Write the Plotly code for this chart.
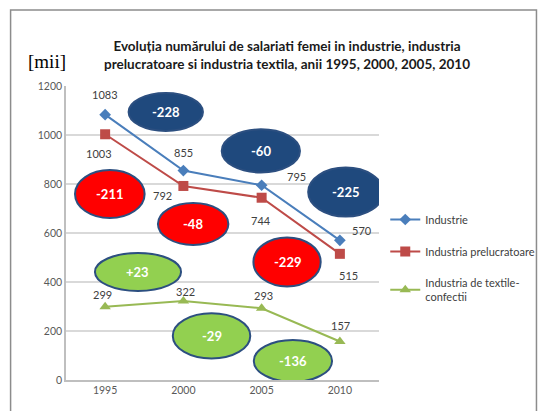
import plotly.graph_objects as go

ani = ["1995", "2000", "2005", "2010"]
industrie = [1083, 855, 795, 570]
prelucratoare = [1003, 792, 744, 515]
textile = [299, 322, 293, 157]

# diferente intre ani (valori scrise in ovale)
dif_industrie = ["-228", "-60", "-225"]
dif_prelucratoare = ["-211", "-48", "-229"]
dif_textile = ["+23", "-29", "-136"]

x = list(range(len(ani)))

# pagina are margine de 8px, deci figura e mai mica cu 8px
fig = go.Figure()

serii = [
    ("Industrie", industrie, "#4A7EBB", "diamond", 9),
    ("Industria prelucratoare", prelucratoare, "#BE4B48", "square", 10),
    ("Industria de textile-<br>confectii", textile, "#98B954", "triangle-up", 10),
]
for i, (nume, val, cul, simbol, sz) in enumerate(serii):
    fig.add_trace(go.Scatter(
        x=x, y=val, name=nume, mode="lines+markers",
        line=dict(color=cul, width=2),
        marker=dict(symbol=simbol, size=sz, color=cul),
        legendgroup=str(i),
    ))

# etichete de date (deplasari in pixeli)
deplasari = [
    [(0, 20), (0, 18), (35, 9), (22, 10)],
    [(-6, -19), (-21, -10), (-1, -23), (9, -22)],
    [(-3, 12), (2, 10), (2, 13), (1, 16)],
]
for (nume, val, cul, simbol, sz), dep in zip(serii, deplasari):
    for xi, v, (dx, dy) in zip(x, val, dep):
        fig.add_annotation(x=xi, y=v, text=str(v), showarrow=False,
                           xshift=dx, yshift=dy,
                           font=dict(family="Lato", size=11, color="#404040"))

# ovale: (x centru, y centru, latime, inaltime)
ovale = [
    (dif_industrie, "#1F497D", [(0.775, 1094, 0.95, 155), (1.99, 935, 1.0, 176), (3.075, 767, 0.96, 200)]),
    (dif_prelucratoare, "#FF0000", [(0.06, 759, 0.89, 196), (1.125, 637, 0.9, 171), (2.325, 482, 0.86, 200)]),
    (dif_textile, "#92D050", [(0.42, 441, 1.1, 155), (1.36, 180, 0.99, 184), (2.4, 78, 1.0, 171)]),
]
for texte, fill, poz in ovale:
    for t, (cx, cy, w, h) in zip(texte, poz):
        fig.add_shape(type="circle", xref="x", yref="y",
                      x0=cx - w / 2, x1=cx + w / 2, y0=cy - h / 2, y1=cy + h / 2,
                      fillcolor=fill, line=dict(color="#2C4F80", width=2))
        fig.add_annotation(x=cx, y=cy, text="<b>" + t + "</b>", showarrow=False,
                           font=dict(family="Lato", size=13, color="white"))


def px_x(p):
    return (p - 66) / 322


def px_y(p):
    return (380 - p) / 294


# chenar exterior
fig.add_shape(type="rect", xref="paper", yref="paper",
              x0=px_x(9), x1=px_x(550), y0=px_y(420), y1=px_y(10),
              line=dict(color="#8C8C8C", width=1.5), fillcolor="rgba(0,0,0,0)")

fig.add_annotation(xref="paper", yref="paper", x=px_x(293), y=px_y(55),
                   xanchor="center", yanchor="middle",
                   text="<b>Evoluția numărului de salariati femei in industrie, industria<br>"
                        "prelucratoare si industria textila, anii 1995, 2000, 2005, 2010</b>",
                   showarrow=False, align="center",
                   font=dict(family="Lato", size=13.5, color="#1A1A1A"))
fig.add_annotation(xref="paper", yref="paper", x=px_x(46), y=px_y(61),
                   xanchor="center", yanchor="middle",
                   text="[mii]", showarrow=False,
                   font=dict(family="Liberation Serif", size=19, color="black"))

fig.update_layout(
    width=544, height=403,
    margin=dict(l=58, r=164, t=78, b=31),
    paper_bgcolor="white", plot_bgcolor="white",
    font=dict(family="Lato", color="#595959"),
    legend=dict(x=1.02, y=px_y(205), xanchor="left", yanchor="top",
                font=dict(family="Lato", size=11, color="#404040"),
                tracegroupgap=13, bgcolor="rgba(0,0,0,0)"),
    xaxis=dict(range=[-0.5, 3.5], tickvals=x, ticktext=ani, showgrid=False,
               showline=True, linecolor="#BFBFBF", linewidth=1.5,
               tickfont=dict(size=10.5), zeroline=False),
    yaxis=dict(range=[0, 1200], dtick=200, showgrid=True, gridcolor="#D9D9D9",
               gridwidth=1.5, showline=True, linecolor="#BFBFBF", linewidth=1.5,
               tickfont=dict(size=10.5), zeroline=False, ticks=""),
)

fig.write_html("out.html")
